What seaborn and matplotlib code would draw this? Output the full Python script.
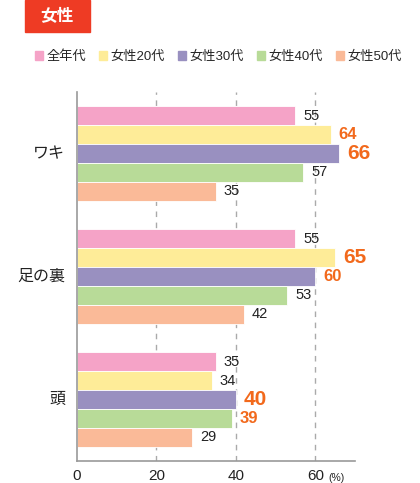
import matplotlib
matplotlib.use("Agg")
import matplotlib.pyplot as plt
import matplotlib.patches as mpatches
import pandas as pd
import seaborn as sns

# data
parts = ["ワキ", "足の裏", "頭"]
groups = ["全年代", "女性20代", "女性30代", "女性40代", "女性50代"]
vals_all = [55, 55, 35]
vals_20 = [64, 65, 34]
vals_30 = [66, 60, 40]
vals_40 = [57, 53, 39]
vals_50 = [35, 42, 29]
# emphasis per (group, part): 0 normal, 1 bold orange, 2 big bold orange
emph_all = [0, 0, 0]
emph_20 = [1, 2, 0]
emph_30 = [2, 1, 2]
emph_40 = [0, 0, 1]
emph_50 = [0, 0, 0]

colors = ["#F5A3C7", "#FEEC98", "#9990C0", "#B8DB98", "#FABA98"]
ORANGE = "#F2691C"

sns.set_theme(style="white")
plt.rcParams["font.family"] = ["Liberation Sans", "Noto Sans CJK JP", "DejaVu Sans"]

series = [vals_all, vals_20, vals_30, vals_40, vals_50]
emph = [emph_all, emph_20, emph_30, emph_40, emph_50]
rows = []
for g, vals in zip(groups, series):
    for p, v in zip(parts, vals):
        rows.append({"part": p, "group": g, "value": v})
df = pd.DataFrame(rows)

fig = plt.figure(figsize=(4.2, 4.83), dpi=100)
ax = fig.add_axes([77 / 420, 22 / 483, 278 / 420, 369 / 483])

sns.barplot(data=df, y="part", x="value", hue="group", order=parts,
            hue_order=groups, palette=colors, saturation=1, width=0.77,
            orient="h", edgecolor="white", linewidth=0.6, ax=ax, legend=False)

ax.set_xlim(0, 70)
ax.set_ylim(2.5, -0.5)
ax.set_xticks([0, 20, 40, 60])
ax.set_xticklabels(["0", "20", "40", "60"], fontsize=11, color="#222222")
ax.tick_params(axis="x", length=0, pad=6)
ax.set_yticks([0.5, 1.5])
ax.set_yticklabels([])
ax.tick_params(axis="y", direction="out", length=4, width=1, color="#999999")
for i, p in enumerate(parts):
    ax.text(-3, i, p, ha="right", va="center", fontsize=11.5, color="#222222")
ax.set_xlabel("")
ax.set_ylabel("")
for x in [20, 40, 60]:
    ax.axvline(x, color="#AAAAAA", linestyle=(0, (4, 4)), linewidth=1, zorder=0)
for s in ["top", "right"]:
    ax.spines[s].set_visible(False)
for s in ["left", "bottom"]:
    ax.spines[s].set_color("#999999")
    ax.spines[s].set_linewidth(1.2)

ax.annotate("(%)", xy=(63.3, 2.5), xytext=(0, -12), textcoords="offset points",
            fontsize=7.5, color="#222222", va="center", ha="left",
            annotation_clip=False)

# value labels
for cont, vals, em in zip(ax.containers, series, emph):
    for bar, v, e in zip(cont, vals, em):
        y = bar.get_y() + bar.get_height() / 2
        if e == 0:
            kw = dict(fontsize=10.5, color="#222222")
        elif e == 1:
            kw = dict(fontsize=12, color=ORANGE, fontweight="bold")
        else:
            kw = dict(fontsize=15, color=ORANGE, fontweight="bold")
        ax.annotate(str(v), xy=(bar.get_width(), y), xytext=(5.5, 0),
                    textcoords="offset points", va="center", ha="left", **kw)

# legend
handles = [mpatches.Patch(color=c, label=g) for c, g in zip(colors, groups)]
fig.legend(handles=handles, loc="center", bbox_to_anchor=(0.52, 1 - 57 / 483),
           ncol=5, frameon=False, fontsize=9.5, handlelength=0.6,
           handleheight=0.6, handletextpad=0.3, columnspacing=0.95)

# title badge
fig.patches.append(mpatches.Rectangle((25 / 420, 1 - 32 / 483), 65 / 420,
                                      32 / 483, transform=fig.transFigure,
                                      color="#EE3B24", zorder=0))
fig.text(57 / 420, 1 - 16 / 483, "女性", ha="center", va="center",
         fontsize=12, fontweight="bold", color="white")

fig.savefig("out.png", dpi=100)
